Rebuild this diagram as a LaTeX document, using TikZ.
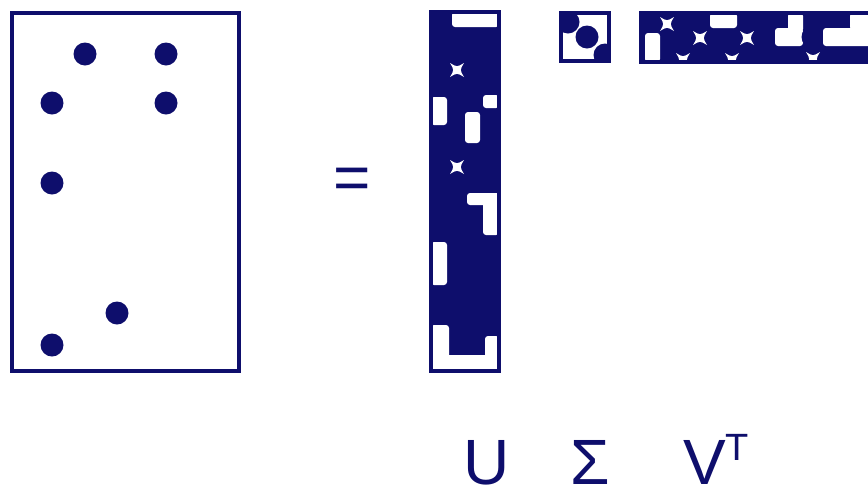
\documentclass[tikz,border=0pt]{standalone}
\usepackage{fontspec}
\setmainfont{Liberation Sans}
\usepackage{xcolor}
\definecolor{navy}{RGB}{14,14,108}

% small white hole left between four dots
\newcommand{\gapstar}[3]{\fill[white] (#1-#3,#2-#3) .. controls (#1,#2-0.4*#3) .. (#1+#3,#2-#3) .. controls (#1+0.4*#3,#2) .. (#1+#3,#2+#3) .. controls (#1,#2+0.4*#3) .. (#1-#3,#2+#3) .. controls (#1-0.4*#3,#2) .. cycle;}

\begin{document}
\begin{tikzpicture}[x=1pt,y=-1pt,
	dot/.style={circle,fill=navy,inner sep=0pt,minimum size=23pt},
	frame/.style={draw=navy,line width=4.5pt},
	gap/.style={fill=white,rounded corners=3pt},
	lbl/.style={text=navy,inner sep=0pt,font=\fontsize{64}{64}\selectfont}]
	\useasboundingbox (0,0) rectangle (868,499);

	% sparse matrix
	\draw[frame] (12,13) rectangle (239,371);
	\node[dot] (a1) at (85,54) {};
	\node[dot] (a2) at (166,54) {};
	\node[dot] (a3) at (52,103) {};
	\node[dot] (a4) at (166,103) {};
	\node[dot] (a5) at (52,183) {};
	\node[dot] (a6) at (117,313) {};
	\node[dot] (a7) at (52,345) {};

	\node[lbl] (eq) at (352,184) {=};

	% U
	\fill[navy] (431,12) rectangle (499,371);
	\fill[gap] (452,12) rectangle (499,27);
	\gapstar{457}{70}{7}
	\fill[gap] (431,97) rectangle (447,125);
	\fill[gap] (483,95) rectangle (499,108);
	\fill[gap] (465,112) rectangle (480,143);
	\gapstar{457}{167}{7}
	\fill[gap] (467,193) rectangle (499,205);
	\fill[gap] (483,193) rectangle (499,235);
	\fill[gap] (431,242) rectangle (447,285);
	\fill[gap] (431,325) rectangle (449,371);
	\fill[gap] (431,355) rectangle (499,371);
	\fill[gap] (485,336) rectangle (499,371);
	\draw[frame] (431,12) rectangle (499,371);

	% Sigma
	\begin{scope}
		\clip (561,13) rectangle (609,61);
		\node[dot] (s1) at (568,22) {};
		\node[dot] (s2) at (587,37) {};
		\node[dot] (s3) at (605,55) {};
	\end{scope}
	\draw[frame] (561,13) rectangle (609,61);

	% V^T
	\fill[navy] (641,13) rectangle (880,62);
	\fill[gap] (645,33) rectangle (660,62);
	\gapstar{667}{24}{7}
	\gapstar{700}{38}{7}
	\fill[gap] (710,13) rectangle (737,28);
	\gapstar{683}{60}{7}
	\gapstar{732}{60}{7}
	\gapstar{747}{38}{7}
	\fill[gap] (788,13) rectangle (803,32);
	\fill[gap] (775,28) rectangle (803,46);
	\node[dot] (v1) at (813,37) {};
	\gapstar{813}{59}{7}
	\fill[gap] (823,28) rectangle (880,46);
	\fill[gap] (850,13) rectangle (880,30);
	\draw[frame] (641,13) rectangle (880,62);

	\node[lbl,anchor=base] (u) at (487,484) {U};
	\node[lbl,anchor=base] (sig) at (590,484) {Σ};
	\node[lbl,anchor=base west] (vt) at (683,484) {V\raisebox{24pt}{\fontsize{38}{38}\selectfont T}};
\end{tikzpicture}
\end{document}
